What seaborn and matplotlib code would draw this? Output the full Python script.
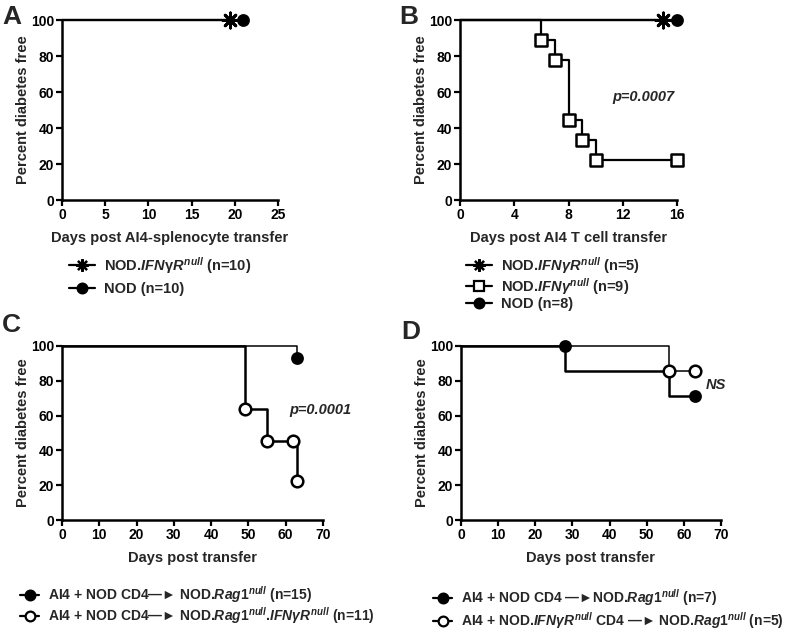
import matplotlib
matplotlib.use("Agg")
import matplotlib.pyplot as plt
from matplotlib.lines import Line2D
import seaborn as sns

# ---- data (days, percent diabetes free) ----
# panel A
a_ifngr_t = [0, 19.5]
a_ifngr_s = [100, 100]
a_ifngr_mx = [19.5]
a_ifngr_my = [100]
a_nod_t = [0, 21]
a_nod_s = [100, 100]
a_nod_mx = [21]
a_nod_my = [100]

# panel B
b_ifngr_t = [0, 15]
b_ifngr_s = [100, 100]
b_ifngr_mx = [15]
b_ifngr_my = [100]
b_ifng_t = [0, 6, 7, 8, 9, 10, 16]
b_ifng_s = [100, 88.9, 77.8, 44.4, 33.3, 22.2, 22.2]
b_ifng_mx = [6, 7, 8, 9, 10, 16]
b_ifng_my = [88.9, 77.8, 44.4, 33.3, 22.2, 22.2]
b_nod_t = [0, 16]
b_nod_s = [100, 100]
b_nod_mx = [16]
b_nod_my = [100]

# panel C
c_rag_t = [0, 63]
c_rag_s = [100, 93.3]
c_rag_mx = [63]
c_rag_my = [93.3]
c_ragifngr_t = [0, 49, 55, 62, 63]
c_ragifngr_s = [100, 63.6, 45.5, 45.5, 22.7]
c_ragifngr_mx = [49, 55, 62, 63]
c_ragifngr_my = [63.6, 45.5, 45.5, 22.7]

# panel D
d_nod_t = [0, 28, 56, 63]
d_nod_s = [100, 85.7, 71.4, 71.4]
d_nod_mx = [28, 63]
d_nod_my = [100, 71.4]
d_ifngr_t = [0, 56, 63]
d_ifngr_s = [100, 85.7, 85.7]
d_ifngr_mx = [56, 63]
d_ifngr_my = [85.7, 85.7]

sns.set_style("ticks")
plt.rcParams["font.family"] = ["Liberation Sans", "DejaVu Sans"]
plt.rcParams["font.weight"] = "bold"
plt.rcParams["axes.labelweight"] = "bold"
plt.rcParams["mathtext.fontset"] = "custom"
plt.rcParams["mathtext.rm"] = "Liberation Sans:bold"
plt.rcParams["mathtext.it"] = "Liberation Sans:italic:bold"
plt.rcParams["mathtext.bf"] = "Liberation Sans:bold"

ASTER = (8, 2, 0)
ARROW = "—►"
W = 792
H = 630


def box(x0, x1, y0, y1):
    return [x0 / W, 1 - y1 / H, (x1 - x0) / W, (y1 - y0) / H]


def curve(ax, t, s, mx, my, marker, face, lw=1.6, ms=55):
    sns.lineplot(x=t, y=s, ax=ax, color="black", lw=lw, drawstyle="steps-post",
                 estimator=None, sort=False, clip_on=False, zorder=3)
    if marker == ASTER:
        sns.scatterplot(x=mx, y=my, ax=ax, marker=marker, color="black", s=120,
                        linewidth=2.0, clip_on=False, zorder=5)
    else:
        sns.scatterplot(x=mx, y=my, ax=ax, marker=marker, color=face, edgecolor="black",
                        s=ms, linewidth=1.8, clip_on=False, zorder=5)


def style_axes(ax, xmax, xticks, xlabel):
    ax.set_xlim(0, xmax)
    ax.set_ylim(0, 100)
    ax.set_xticks(xticks)
    ax.set_yticks([0, 20, 40, 60, 80, 100])
    ax.set_xlabel(xlabel, fontsize=10.5, labelpad=7)
    ax.set_ylabel("Percent diabetes free", fontsize=10.5, labelpad=1)
    for sp in ["left", "bottom"]:
        ax.spines[sp].set_linewidth(1.8)
        ax.spines[sp].set_color("black")
    sns.despine(ax=ax)
    ax.tick_params(width=1.6, length=4, labelsize=10, colors="black", pad=1.5)


def handle(marker, face, lw=1.6):
    if marker == ASTER:
        return Line2D([], [], color="black", lw=lw, marker=marker, ms=9, mew=1.6)
    return Line2D([], [], color="black", lw=lw, marker=marker, ms=7,
                  markerfacecolor=face, markeredgecolor="black", mew=1.6)


def legend(ax, handles, labels, x, y, spacing, size=10.5, hlen=1.8):
    ax.legend(handles, labels, loc="upper left", bbox_to_anchor=(x / W, 1 - y / H),
              bbox_transform=fig.transFigure, frameon=False, borderaxespad=0,
              borderpad=0, handlelength=hlen, handletextpad=0.6,
              labelspacing=spacing, fontsize=size)


fig = plt.figure(figsize=(7.92, 6.3), dpi=100)

# ---- A ----
axA = fig.add_axes(box(62, 278, 20, 200))
curve(axA, a_ifngr_t, a_ifngr_s, a_ifngr_mx, a_ifngr_my, ASTER, "black")
curve(axA, a_nod_t, a_nod_s, a_nod_mx, a_nod_my, "o", "black")
style_axes(axA, 25, [0, 5, 10, 15, 20, 25], "Days post AI4-splenocyte transfer")
legend(axA, [handle(ASTER, "black"), handle("o", "black")],
       [r"NOD.$\mathit{IFN}$γ$\mathit{R}^{null}$ (n=10)", "NOD (n=10)"], 69, 255, 0.45)

# ---- B ----
axB = fig.add_axes(box(460, 677, 20, 200))
curve(axB, b_ifngr_t, b_ifngr_s, b_ifngr_mx, b_ifngr_my, ASTER, "black")
curve(axB, b_ifng_t, b_ifng_s, b_ifng_mx, b_ifng_my, "s", "white", ms=65)
curve(axB, b_nod_t, b_nod_s, b_nod_mx, b_nod_my, "o", "black")
style_axes(axB, 16, [0, 4, 8, 12, 16], "Days post AI4 T cell transfer")
axB.text(13.55, 57, "p=0.0007", style="italic", fontsize=10.5, ha="center", va="center")
legend(axB, [handle(ASTER, "black"), handle("s", "white"), handle("o", "black")],
       [r"NOD.$\mathit{IFN\gamma R}^{null}$ (n=5)", r"NOD.$\mathit{IFN\gamma}^{null}$ (n=9)",
        "NOD (n=8)"], 466, 255, 0.0)

# ---- C ----
axC = fig.add_axes(box(62, 323, 346, 520))
curve(axC, c_rag_t, c_rag_s, c_rag_mx, c_rag_my, "o", "black", lw=1.1)
curve(axC, c_ragifngr_t, c_ragifngr_s, c_ragifngr_mx, c_ragifngr_my, "o", "white", lw=1.8, ms=70)
style_axes(axC, 70, list(range(0, 71, 10)), "Days post transfer")
axC.text(69.2, 63, "p=0.0001", style="italic", fontsize=10.5, ha="center", va="center")
legend(axC, [handle("o", "black"), handle("o", "white")],
       [r"AI4 + NOD CD4" + ARROW + r" NOD.$\mathit{Rag1}^{null}$ (n=15)",
        r"AI4 + NOD CD4" + ARROW + r" NOD.$\mathit{Rag1}^{null}$.$\mathit{IFN\gamma R}^{null}$ (n=11)"],
       20, 584, 0.05, size=10, hlen=1.4)

# ---- D ----
axD = fig.add_axes(box(461, 721, 346, 520))
curve(axD, d_ifngr_t, d_ifngr_s, d_ifngr_mx, d_ifngr_my, "o", "white", lw=1.1, ms=70)
curve(axD, d_nod_t, d_nod_s, d_nod_mx, d_nod_my, "o", "black", lw=1.8)
style_axes(axD, 70, list(range(0, 71, 10)), "Days post transfer")
axD.text(68.7, 77.5, "NS", style="italic", fontsize=10.5, ha="center", va="center")
legend(axD, [handle("o", "black"), handle("o", "white")],
       [r"AI4 + NOD CD4 " + ARROW + r"NOD.$\mathit{Rag1}^{null}$ (n=7)",
        r"AI4 + NOD.$\mathit{IFN\gamma R}^{null}$ CD4 " + ARROW + r" NOD.$\mathit{Rag1}^{null}$ (n=5)"],
       433, 587, 0.15, size=10, hlen=1.4)

# panel letters
for letter, x, y in [("A", 2, 5), ("B", 399, 5), ("C", 2, 313), ("D", 401, 320)]:
    fig.text(x / W, 1 - y / H, letter, fontsize=19, fontweight="bold", va="top", ha="left")

fig.savefig("out.png", dpi=100)
